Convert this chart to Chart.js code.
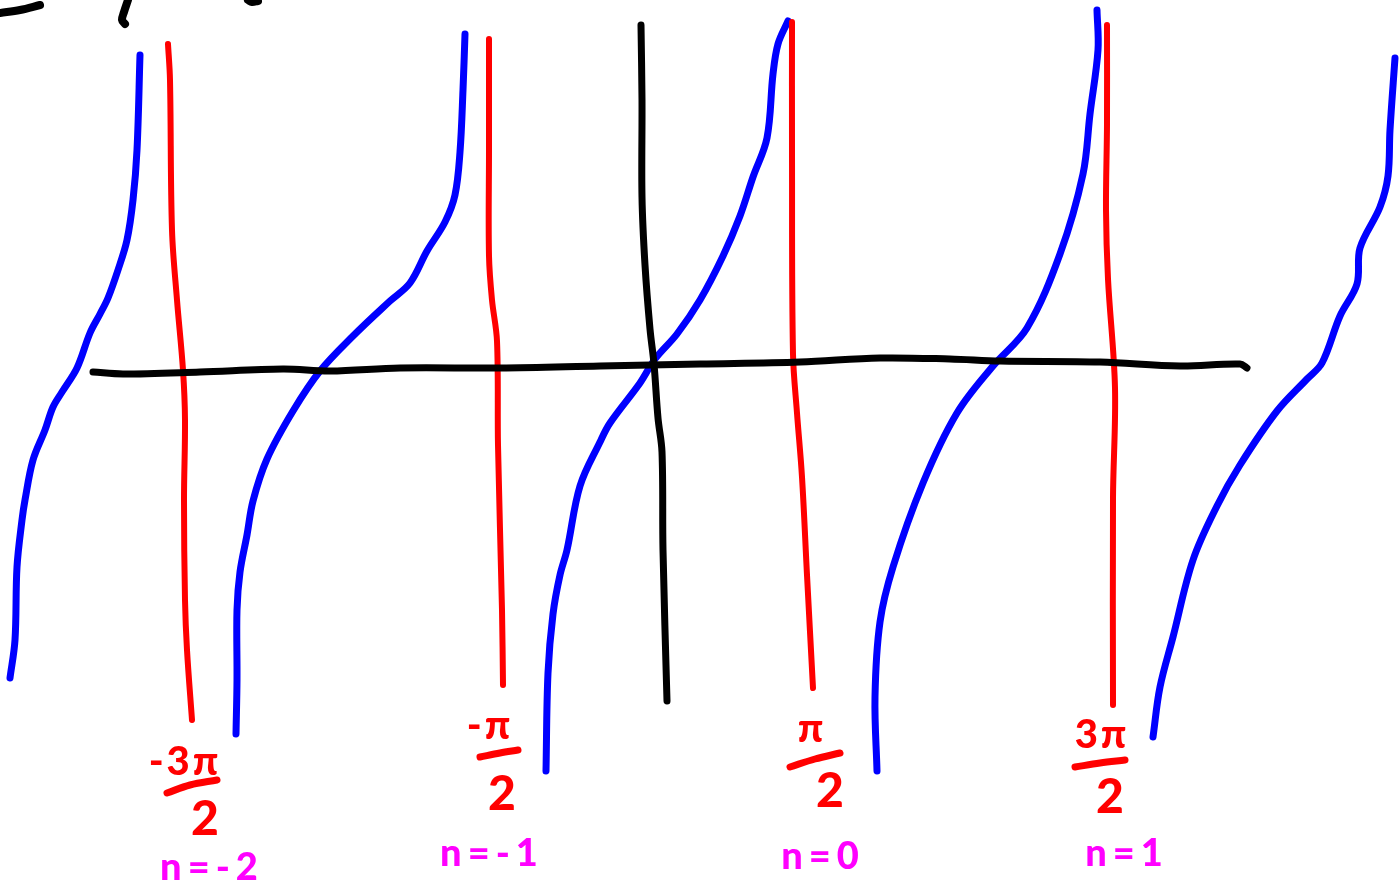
<!DOCTYPE html>
<html>
<head>
<meta charset="utf-8">
<title>y = tan x</title>
<script src="https://cdn.jsdelivr.net/npm/chart.js@4.4.1/dist/chart.umd.min.js"></script>
<style>
  html, body { margin: 0; padding: 0; background: #ffffff; }
  #wrap { width: 1400px; height: 890px; position: relative; }
</style>
</head>
<body>
<div id="wrap"><canvas id="tanChart"></canvas></div>
<script>
// Sketch coordinates: x grows right, y grows down (0..1400, 0..890)

// Blue branches of tan x
const branchA = [[10, 678], [15, 640], [17, 567], [22, 520], [25, 500], [33, 460], [45, 430], [53, 407], [62, 392], [77, 368], [90, 333], [100, 314], [108, 298], [118, 270], [127, 240], [133, 200], [137, 150], [140, 55]];
const branchB = [[236, 734], [237, 680], [237, 610], [240, 572], [247, 535], [253, 501], [267, 459], [293, 411], [320, 371], [353, 336], [390, 301], [410, 283], [427, 251], [445, 222], [455, 195], [460, 152], [463, 90], [465, 34]];
const branchC = [[546, 771], [548, 673], [553, 614], [560, 575], [567, 550], [580, 486], [600, 442], [610, 423], [640, 383], [655, 359], [677, 334], [700, 300], [723, 256], [740, 216], [753, 177], [767, 138], [773, 74], [778, 44], [788, 21]];
const branchD = [[877, 771], [875, 697], [880, 622], [893, 567], [923, 483], [957, 413], [993, 366], [1027, 328], [1060, 254], [1083, 174], [1090, 114], [1098, 50], [1097, 10]];
const branchE = [[1153, 737], [1160, 687], [1173, 637], [1193, 560], [1217, 506], [1240, 465], [1277, 411], [1307, 379], [1322, 363], [1340, 316], [1357, 284], [1360, 248], [1380, 207], [1388, 176], [1390, 130], [1395, 58]];

// Red vertical asymptotes
const asymA = [[168, 44], [170, 80], [172, 230], [177, 300], [183, 370], [185, 420], [184, 500], [185, 600], [187, 650], [192, 720]];
const asymB = [[489, 39], [489, 150], [489, 256], [492, 300], [497, 341], [498, 445], [502, 610], [503, 685]];
const asymC = [[792, 22], [792, 150], [793, 354], [797, 413], [802, 477], [807, 575], [813, 688]];
const asymD = [[1107, 25], [1107, 124], [1106, 210], [1108, 279], [1115, 388], [1113, 498], [1113, 705]];

// Black axes
const xAxisLine = [[93, 372], [123, 374], [200, 372], [283, 369], [330, 371], [400, 368], [500, 368], [600, 366], [700, 364], [800, 362], [880, 358], [950, 359], [1000, 361], [1100, 362], [1180, 366], [1240, 364], [1247, 368]];
const yAxisLine = [[641, 25], [642, 100], [642, 197], [645, 265], [650, 329], [654, 364], [658, 418], [662, 452], [663, 550], [667, 701]];

// Strokes of the title cut off at the top edge
const titleDash = [[0, 13], [20, 10], [40, 5]];
const titleHook = [[128, 0], [124, 12], [122, 20], [125, 24]];
const titleBlob = [[248, 0], [252, 2], [258, 1]];

// Fraction bars under the numerators
const barA = [[167, 793], [190, 785], [217, 780]];
const barB = [[480, 757], [500, 753], [518, 750]];
const barC = [[790, 767], [815, 759], [840, 753]];
const barD = [[1075, 767], [1100, 763], [1125, 760]];

// Asymptote labels: numerator, denominator, index
const numerators = ["-3π", "-π", "π", "3π"];
const denominators = ["2", "2", "2", "2"];
const indexLabels = ["n=-2", "n=-1", "n=0", "n=1"];
const numeratorAt = [[185, 762], [490, 726], [812, 729], [1102, 735]];
const denominatorAt = [[205, 820], [502, 795], [830, 792], [1110, 798]];
const indexAt = [[212, 868], [492, 854], [823, 857], [1127, 854]];

const BLUE = "#0000ff";
const RED = "#ff0000";
const BLACK = "#000000";
const MAGENTA = "#ff00ff";

function stroke(points, color, width) {
    return {
        data: points.map(([x, y]) => ({ x, y })),
        showLine: true,
        borderColor: color,
        borderWidth: width,
        pointRadius: 0,
        tension: 0.35,
        borderCapStyle: "round",
        borderJoinStyle: "round",
        fill: false,
    };
}

const datasets = [
    stroke(xAxisLine, BLACK, 7),
    stroke(yAxisLine, BLACK, 7),
    stroke(titleDash, BLACK, 8),
    stroke(titleHook, BLACK, 8),
    stroke(titleBlob, BLACK, 8),
    stroke(asymA, RED, 6),
    stroke(asymB, RED, 6),
    stroke(asymC, RED, 6),
    stroke(asymD, RED, 6),
    stroke(branchA, BLUE, 7),
    stroke(branchB, BLUE, 7),
    stroke(branchC, BLUE, 7),
    stroke(branchD, BLUE, 7),
    stroke(branchE, BLUE, 7),
    stroke(barA, RED, 7),
    stroke(barB, RED, 7),
    stroke(barC, RED, 7),
    stroke(barD, RED, 7),
];

// Writes the handwritten labels at positions resolved through the scales
const labelPlugin = {
    id: "asymptoteLabels",
    afterDatasetsDraw(chart) {
        const { ctx, scales } = chart;
        const put = (text, at, color, size, spacing) => {
            ctx.fillStyle = color;
            ctx.font = `900 ${size}px "Lato", "Noto Sans", sans-serif`;
            ctx.letterSpacing = spacing + "px";
            ctx.fillText(text, scales.x.getPixelForValue(at[0]), scales.y.getPixelForValue(at[1]));
        };
        ctx.save();
        ctx.textAlign = "center";
        ctx.textBaseline = "middle";
        numerators.forEach((t, i) => put(t, numeratorAt[i], RED, 40, 3));
        denominators.forEach((t, i) => put(t, denominatorAt[i], RED, 48, 0));
        indexLabels.forEach((t, i) => put(t, indexAt[i], MAGENTA, 38, 6));
        ctx.restore();
    },
};

new Chart(document.getElementById("tanChart"), {
    type: "scatter",
    data: { datasets },
    options: {
        responsive: true,
        maintainAspectRatio: false,
        animation: false,
        layout: { padding: 0 },
        plugins: {
            legend: { display: false },
            tooltip: { enabled: false },
        },
        scales: {
            x: { type: "linear", min: 0, max: 1400, display: false },
            y: { type: "linear", min: 0, max: 890, reverse: true, display: false },
        },
    },
    plugins: [labelPlugin],
});
</script>
</body>
</html>
